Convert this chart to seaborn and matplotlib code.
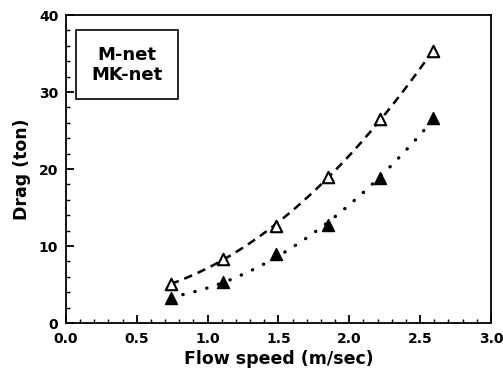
import numpy as np
import pandas as pd
import matplotlib
matplotlib.use("Agg")
import matplotlib.pyplot as plt
import seaborn as sns
from matplotlib.ticker import MultipleLocator, FormatStrFormatter

speed = [0.74, 1.11, 1.48, 1.85, 2.22, 2.59]
m_net = [5.1, 8.3, 12.6, 19.0, 26.5, 35.3]
mk_net = [3.2, 5.4, 9.0, 12.7, 18.8, 26.6]
labels = ["M-net", "MK-net"]

sns.set_style("ticks")
plt.rcParams['font.family'] = ['DejaVu Sans']
plt.rcParams.update({"text.color": "black", "axes.labelcolor": "black",
                     "xtick.color": "black", "ytick.color": "black"})

fig = plt.figure(figsize=(5.03, 3.77), dpi=100)
ax = fig.add_axes([0.131, 0.143, 0.845, 0.817])

df = pd.DataFrame({"speed": speed, "m": m_net, "mk": mk_net})

sns.regplot(data=df, x="speed", y="m", order=2, ci=None, scatter=False, ax=ax,
            line_kws=dict(color="black", lw=1.8, ls=(0, (3.4, 2.4))))
sns.regplot(data=df, x="speed", y="mk", order=2, ci=None, scatter=False, ax=ax,
            line_kws=dict(color="black", lw=2.4, ls=(0, (0.1, 3.6))))
ax.lines[-1].set_dash_capstyle("round")

sns.scatterplot(data=df, x="speed", y="m", marker="^", s=68, facecolor="white",
                edgecolor="black", linewidth=1.5, ax=ax, label=labels[0], zorder=5)
sns.scatterplot(data=df, x="speed", y="mk", marker="^", s=75, color="black",
                edgecolor="black", linewidth=1.0, ax=ax, label=labels[1], zorder=5)

ax.set_xlim(0, 3.0)
ax.set_ylim(0, 40)
ax.xaxis.set_major_locator(MultipleLocator(0.5))
ax.xaxis.set_minor_locator(MultipleLocator(0.1))
ax.xaxis.set_major_formatter(FormatStrFormatter("%.1f"))
ax.yaxis.set_major_locator(MultipleLocator(10))
ax.yaxis.set_minor_locator(MultipleLocator(2))
ax.tick_params(which="major", direction="in", length=6, width=1.3, labelsize=10,
               color="black", labelcolor="black")
ax.tick_params(axis="x", pad=6.5)
ax.tick_params(axis="y", pad=5.5)
ax.tick_params(which="minor", direction="in", length=3, width=1.0, color="black")
for lab in ax.get_xticklabels() + ax.get_yticklabels():
    lab.set_fontweight("bold")

for s in ax.spines.values():
    s.set_linewidth(1.3)
    s.set_color("black")

ax.set_xlabel("Flow speed (m/sec)", fontsize=12.5, fontweight="bold", labelpad=3, color="black")
ax.set_ylabel("Drag (ton)", fontsize=12.5, fontweight="bold", labelpad=6, color="black")

leg = ax.legend(loc="upper left", bbox_to_anchor=(0.0235, 0.95), frameon=True, fancybox=False,
                edgecolor="black", handlelength=0, handletextpad=0,
                prop=dict(size=13, weight="bold"),
                borderpad=0.85, labelspacing=0.1, framealpha=1, borderaxespad=0)
leg.get_frame().set_linewidth(1.2)
for h in leg.legend_handles:
    h.set_visible(False)
for t in leg.get_texts():
    t.set_color("black")
for col in leg._legend_handle_box.get_children():
    col.align = "center"

fig.savefig("out.png", dpi=100)
